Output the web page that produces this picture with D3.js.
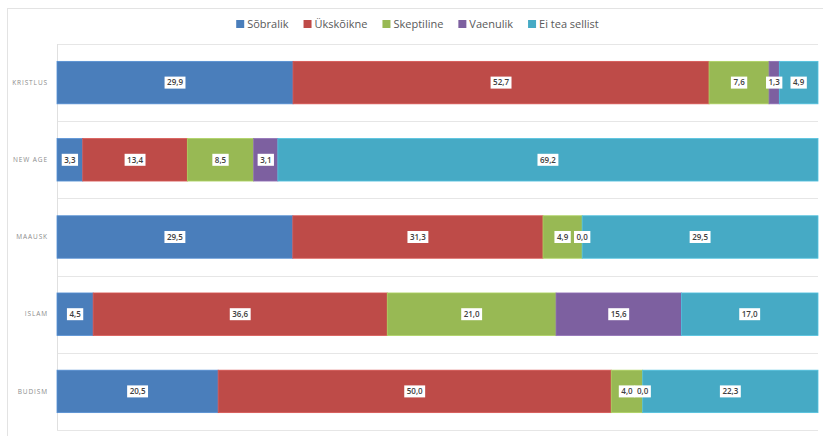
<!DOCTYPE html>
<html>
<head>
<meta charset="utf-8">
<script src="https://cdn.jsdelivr.net/npm/d3@7"></script>
<style>
  body { margin: 0; background: #fff; }
  text { font-family: "Open Sans", "Noto Sans", sans-serif; }
</style>
</head>
<body>
<div id="chart"></div>
<script>
const categories = ["KRISTLUS", "NEW AGE", "MAAUSK", "ISLAM", "BUDISM"];
const seriesNames = ["Sõbralik", "Ükskõikne", "Skeptiline", "Vaenulik", "Ei tea sellist"];
const colors = ["#4A7EBB", "#BE4B48", "#98B954", "#7D60A0", "#46AAC5"];

const sobralik = [29.9, 3.3, 29.5, 4.5, 20.5];
const ukskoikne = [52.7, 13.4, 31.3, 36.6, 50.0];
const skeptiline = [7.6, 8.5, 4.9, 21.0, 4.0];
const vaenulik = [1.3, 3.1, 0.0, 15.6, 0.0];
const eiTea = [4.9, 69.2, 29.5, 17.0, 22.3];

const seriesValues = [sobralik, ukskoikne, skeptiline, vaenulik, eiTea];

const width = 823, height = 436;
const margin = { top: 44, right: 5, bottom: 6, left: 57 };

const rows = categories.map((c, i) => {
  const r = { cat: c };
  seriesNames.forEach((s, j) => r[s] = seriesValues[j][i]);
  return r;
});

const stack = d3.stack()
  .keys(seriesNames)
  .offset(d3.stackOffsetExpand);
const stacked = stack(rows);

const svg = d3.select("#chart").append("svg")
  .attr("width", width)
  .attr("height", height);

// outer chart frame
svg.append("rect")
  .attr("x", 7.5).attr("y", 8.5)
  .attr("width", 840).attr("height", 450)
  .attr("fill", "none")
  .attr("stroke", "#e3e3e3");

const x = d3.scaleLinear()
  .domain([0, 1])
  .range([margin.left, width - margin.right]);

const y = d3.scaleBand()
  .domain(categories)
  .range([margin.top, height - margin.bottom])
  .paddingInner(0.45)
  .paddingOuter(0.225);

// band separators
const step = y.step();
const bounds = d3.range(categories.length + 1).map(i => margin.top + i * step);
svg.append("g")
  .selectAll("line")
  .data(bounds)
  .join("line")
  .attr("x1", margin.left)
  .attr("x2", width - margin.right)
  .attr("y1", d => Math.round(d) + 0.5)
  .attr("y2", d => Math.round(d) + 0.5)
  .attr("stroke", "#e6e6e6");

svg.append("line")
  .attr("x1", margin.left + 0.5).attr("x2", margin.left + 0.5)
  .attr("y1", margin.top).attr("y2", height - margin.bottom)
  .attr("stroke", "#e0e0e0");

// bars
const layer = svg.append("g")
  .selectAll("g")
  .data(stacked)
  .join("g")
  .attr("fill", (d, i) => colors[i])
  .attr("stroke", (d, i) => d3.color(colors[i]).brighter(0.35))
  .attr("stroke-width", 0.8);

layer.selectAll("rect")
  .data(d => d)
  .join("rect")
  .attr("x", d => x(d[0]))
  .attr("y", d => y(d.data.cat))
  .attr("width", d => x(d[1]) - x(d[0]))
  .attr("height", y.bandwidth());

// category labels
svg.append("g")
  .selectAll("text")
  .data(categories)
  .join("text")
  .attr("x", 48)
  .attr("y", d => y(d) + y.bandwidth() / 2)
  .attr("dy", "0.35em")
  .attr("text-anchor", "end")
  .attr("font-size", 6.5)
  .attr("letter-spacing", 0.9)
  .attr("fill", "#8c8c8c")
  .text(d => d);

// data labels
const fmt = v => d3.format(".1f")(v).replace(".", ",");
const labels = svg.append("g");
stacked.forEach((s, j) => {
  s.forEach(d => {
    const cx = (x(d[0]) + x(d[1])) / 2;
    const cy = y(d.data.cat) + y.bandwidth() / 2;
    const g = labels.append("g").attr("transform", `translate(${cx},${cy})`);
    const t = g.append("text")
      .attr("text-anchor", "middle")
      .attr("dy", "0.35em")
      .attr("font-size", 8)
      .attr("font-weight", 600)
      .attr("fill", "#404040")
      .text(fmt(d.data[s.key]));
    const w = t.node().getComputedTextLength();
    g.insert("rect", "text")
      .attr("x", -w / 2 - 2.5)
      .attr("y", -6)
      .attr("width", w + 5)
      .attr("height", 12)
      .attr("fill", "#fff");
  });
});

// legend
const legend = svg.append("g");
let lx = 0;
const items = seriesNames.map((name, i) => {
  const g = legend.append("g");
  g.append("rect")
    .attr("width", 8).attr("height", 8)
    .attr("y", -4)
    .attr("fill", colors[i]);
  const t = g.append("text")
    .attr("x", 11)
    .attr("dy", "0.35em")
    .attr("font-size", 11)
    .attr("fill", "#595959")
    .text(name);
  const w = 11 + t.node().getComputedTextLength();
  g.attr("transform", `translate(${lx},0)`);
  lx += w + 15;
  return g;
});
const totalW = lx - 15;
legend.attr("transform", `translate(${(width - totalW) / 2 + 6},24)`);
</script>
</body>
</html>
